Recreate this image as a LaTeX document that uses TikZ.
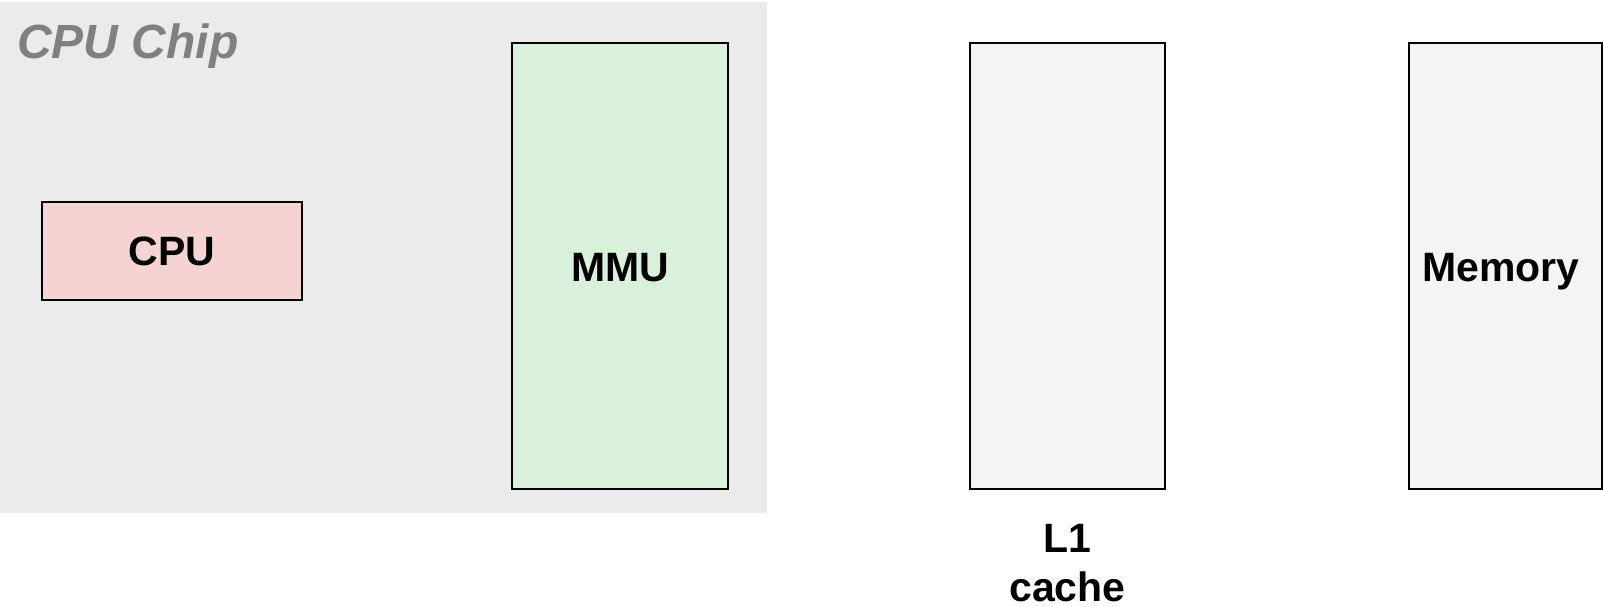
\documentclass[tikz,border=0pt]{standalone}
\usepackage{fontspec}
\setmainfont{Liberation Sans}
\definecolor{chipbg}{HTML}{EBEBEB}
\definecolor{cpufill}{HTML}{F6D3D3}
\definecolor{mmufill}{HTML}{D9F0DA}
\definecolor{memfill}{HTML}{F4F4F4}
\definecolor{chiplabel}{HTML}{808080}
\begin{document}
\begin{tikzpicture}[x=1pt,y=1pt,
  box/.style={draw=black, line width=2pt, inner sep=0pt, font=\fontsize{41}{48}\selectfont\bfseries},
  lbl/.style={inner sep=0pt, align=center, font=\fontsize{41}{49}\selectfont\bfseries}]
\useasboundingbox (0,0) rectangle (1603,-607);
\fill[white] (0,0) rectangle (1603,-607);
% chip background
\node[fill=chipbg, inner sep=0pt, minimum width=767pt, minimum height=511pt, anchor=north west] (chip) at (0,-2) {};
\node[anchor=base west, inner sep=0pt, text=chiplabel, font=\fontsize{48}{50}\selectfont\bfseries\itshape] (chiplbl) at (17,-59) {CPU Chip};
% CPU
\node[box, fill=cpufill, minimum width=260pt, minimum height=98pt] (cpu) at (172,-251) {CPU};
% MMU
\node[box, fill=mmufill, minimum width=216pt, minimum height=446pt] (mmu) at (620,-266) {};
\node[lbl] (mmulbl) at (620,-268) {MMU};
% L1 cache
\node[box, fill=memfill, minimum width=195pt, minimum height=446pt] (l1) at (1067.5,-266) {};
\node[lbl, anchor=north] (l1lbl) at (1067.5,-524) {L1\\cache};
% Memory
\node[box, fill=memfill, minimum width=193pt, minimum height=446pt] (mem) at (1505.5,-266) {};
\node[lbl] (memlbl) at (1501,-272) {Memory};
\end{tikzpicture}
\end{document}
